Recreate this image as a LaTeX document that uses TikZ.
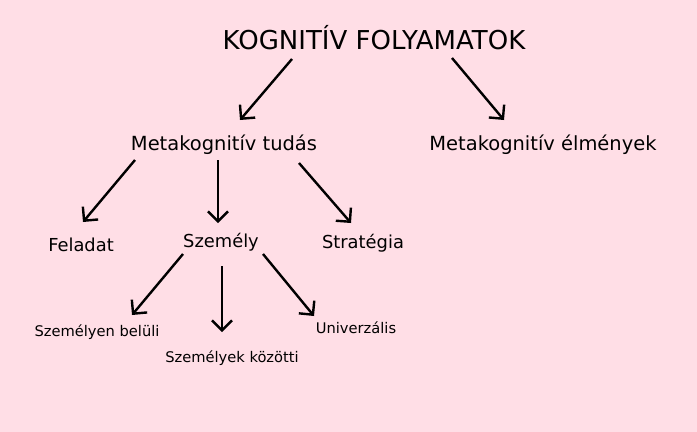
\documentclass[tikz,border=0pt]{standalone}
\usepackage{fontspec}
\setmainfont{DejaVu Sans}
\usetikzlibrary{arrows.meta}
\definecolor{bgpink}{RGB}{255,222,230}
\tikzset{every picture/.style={line width=0.75pt}}
\tikzset{
  nyil/.style={line width=1.8pt,-{Straight Barb[length=7.5pt,width=15pt,line width=1.8pt]}},
  cim/.style={inner sep=0.75pt,font=\fontsize{19.5}{23}\selectfont},
  szint/.style={inner sep=0.75pt,font=\fontsize{14.6}{17}\selectfont},
  kicsi/.style={inner sep=0.75pt,font=\fontsize{13.4}{16}\selectfont},
  apro/.style={inner sep=0.75pt,font=\fontsize{11}{13}\selectfont}
}

\begin{document}
\begin{tikzpicture}[x=0.75pt,y=0.75pt,yscale=-1,xscale=1]
%background
\fill[bgpink] (0,0) rectangle (697,432);
\useasboundingbox (0,0) rectangle (697,432);

% Text Node
\node[cim] (kogn) at (374,38) {KOGNITÍV FOLYAMATOK};
% Text Node
\node[szint] (tudas) at (224,145) {Metakognitív tudás};
% Text Node
\node[szint] (elmeny) at (543,145) {Metakognitív élmények};
% Text Node
\node[kicsi] (feladat) at (81,245) {Feladat};
% Text Node
\node[kicsi] (szemely) at (221,242) {Személy};
% Text Node
\node[kicsi] (strat) at (363,243) {Stratégia};
% Text Node
\node[apro] (belul) at (97,332) {Személyen belüli};
% Text Node
\node[apro] (kozott) at (232,358) {Személyek közötti};
% Text Node
\node[apro] (univ) at (356,328) {Univerzális};

%arrow ends
\coordinate (kogn-a) at (292,59);
\coordinate (kogn-b) at (452,58);
\coordinate (tudas-be) at (240,120);
\coordinate (elmeny-be) at (504,120);
\coordinate (tudas-a) at (135,160);
\coordinate (tudas-b) at (218,160);
\coordinate (tudas-c) at (299,163);
\coordinate (feladat-be) at (83,222);
\coordinate (szemely-be) at (218,223);
\coordinate (strat-be) at (351,223);
\coordinate (szemely-a) at (183,254);
\coordinate (szemely-b) at (222,266);
\coordinate (szemely-c) at (263,254);
\coordinate (belul-be) at (132,315);
\coordinate (kozott-be) at (222,332);
\coordinate (univ-be) at (314,316);

%Straight Lines
\draw[nyil] (kogn-a) -- (tudas-be);
\draw[nyil] (kogn-b) -- (elmeny-be);
\draw[nyil] (tudas-a) -- (feladat-be);
\draw[nyil] (tudas-b) -- (szemely-be);
\draw[nyil] (tudas-c) -- (strat-be);
\draw[nyil] (szemely-a) -- (belul-be);
\draw[nyil] (szemely-b) -- (kozott-be);
\draw[nyil] (szemely-c) -- (univ-be);

\end{tikzpicture}
\end{document}
